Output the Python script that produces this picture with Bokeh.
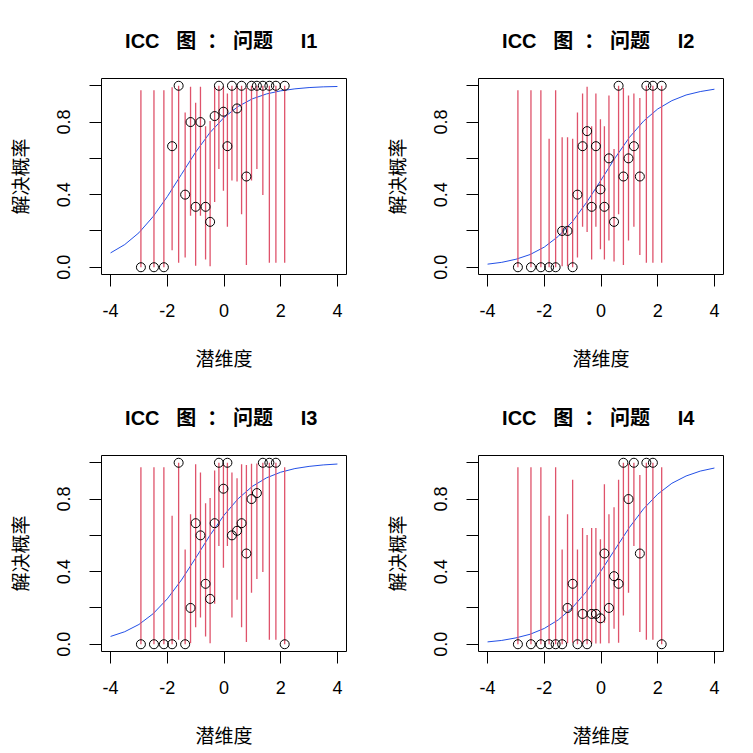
from bokeh.plotting import figure
from bokeh.layouts import column, row
from bokeh.models import Range1d, FixedTicker
from bokeh.embed import file_html
from bokeh.resources import INLINE

# ability group positions (latent trait)
theta = [-2.93, -2.47, -2.12, -1.83, -1.60, -1.37, -1.18, -1.00, -0.83, -0.65,
         -0.49, -0.33, -0.18, -0.02, 0.12, 0.28, 0.46, 0.62, 0.79, 0.97,
         1.16, 1.37, 1.60, 1.83, 2.14]

# item I1
i1_prob = [0, 0, 0, 0.667, 1, 0.4, 0.8, 0.333, 0.8, 0.333, 0.25, 0.833, 1, 0.857,
           0.667, 1, 0.875, 1, 0.5, 1, 1, 1, 1, 1, 1]
i1_lo = [0, 0, 0, 0.094, 0.025, 0.053, 0.284, 0.008, 0.284, 0.043, 0.006, 0.359,
         0.541, 0.421, 0.223, 0.478, 0.473, 0.292, 0.013, 0.478, 0.541, 0.398,
         0.025, 0.025, 0.025]
i1_hi = [0.975, 0.975, 0.975, 0.992, 1, 0.853, 0.995, 0.906, 0.995, 0.777, 0.806,
         0.996, 1, 0.996, 0.957, 1, 0.997, 1, 0.987, 1, 1, 1, 1, 1, 1]

# item I2
i2_prob = [0, 0, 0, 0, 0, 0.2, 0.2, 0, 0.4, 0.667, 0.75, 0.333, 0.667, 0.429,
           0.333, 0.6, 0.25, 1, 0.5, 0.6, 0.667, 0.5, 1, 1, 1]
i2_lo = [0, 0, 0, 0, 0, 0.005, 0.005, 0, 0.053, 0.223, 0.194, 0.043, 0.223, 0.099,
         0.043, 0.147, 0.032, 0.292, 0.013, 0.147, 0.223, 0.068, 0.025, 0.025, 0.025]
i2_hi = [0.975, 0.975, 0.975, 0.708, 0.975, 0.716, 0.716, 0.708, 0.853, 0.957,
         0.994, 0.777, 0.957, 0.816, 0.777, 0.947, 0.651, 1, 0.987, 0.947, 0.957,
         0.932, 1, 1, 1]

# item I3
i3_prob = [0, 0, 0, 0, 1, 0, 0.2, 0.667, 0.6, 0.333, 0.25, 0.667, 1, 0.857, 1,
           0.6, 0.625, 0.667, 0.5, 0.8, 0.833, 1, 1, 1, 0]
i3_lo = [0, 0, 0, 0, 0.025, 0, 0.005, 0.094, 0.147, 0.043, 0.006, 0.223, 0.541,
         0.421, 0.541, 0.147, 0.245, 0.094, 0.013, 0.284, 0.359, 0.398, 0.025,
         0.025, 0]
i3_hi = [0.975, 0.975, 0.975, 0.708, 1, 0.522, 0.716, 0.992, 0.947, 0.777, 0.806,
         0.957, 1, 0.996, 1, 0.947, 0.915, 0.992, 0.987, 0.995, 0.996, 1, 1, 1,
         0.975]

# item I4
i4_prob = [0, 0, 0, 0, 0, 0, 0.2, 0.333, 0, 0.167, 0, 0.167, 0.167, 0.143, 0.5,
           0.2, 0.375, 0.333, 1, 0.8, 1, 0.5, 1, 1, 0]
i4_lo = [0, 0, 0, 0, 0, 0, 0.005, 0.008, 0, 0.004, 0, 0.004, 0.004, 0.004, 0.118,
         0.005, 0.085, 0.008, 0.158, 0.284, 0.541, 0.068, 0.025, 0.025, 0]
i4_hi = [0.975, 0.975, 0.975, 0.708, 0.975, 0.522, 0.716, 0.906, 0.522, 0.641,
         0.602, 0.641, 0.641, 0.579, 0.882, 0.716, 0.755, 0.906, 1, 0.995, 1,
         0.932, 1, 1, 0.975]

# fitted ICC curves read at theta = -4 ... 4 (step 0.5)
curve_x = [-4, -3.5, -3, -2.5, -2, -1.5, -1, -0.5, 0, 0.5, 1, 1.5, 2, 2.5, 3, 3.5, 4]
i1_curve = [0.079, 0.125, 0.190, 0.279, 0.389, 0.512, 0.634, 0.741, 0.825, 0.886,
            0.928, 0.955, 0.972, 0.983, 0.990, 0.994, 0.996]
i2_curve = [0.017, 0.027, 0.044, 0.070, 0.111, 0.171, 0.253, 0.359, 0.480, 0.603,
            0.715, 0.805, 0.872, 0.918, 0.949, 0.968, 0.981]
i3_curve = [0.043, 0.069, 0.109, 0.168, 0.250, 0.354, 0.475, 0.599, 0.711, 0.802,
            0.870, 0.917, 0.948, 0.968, 0.980, 0.988, 0.993]
i4_curve = [0.013, 0.021, 0.035, 0.055, 0.087, 0.135, 0.203, 0.293, 0.404, 0.524,
            0.643, 0.746, 0.827, 0.887, 0.927, 0.954, 0.971]

NB = "\u00a0"
item_names = ["I1", "I2", "I3", "I4"]
titles = ["ICC" + NB * 3 + "图" + NB * 2 + "：" + NB + "问题" + NB * 5 + name + NB
          for name in item_names]
x_label = "潜维度"
y_label = "解决概率"
x_ticks = [-4, -2, 0, 2, 4]
x_tick_labels = ["-4", "-2", "0", "2", "4"]
y_ticks = [0, 0.2, 0.4, 0.6, 0.8, 1.0]
y_tick_labels = ["0.0", "", "0.4", "", "0.8", ""]

RED = "#DF536B"
BLUE = "#2350E6"
LATIN = "Liberation Sans"
CJK = "Noto Sans CJK SC"


def make_panel(title, prob, lo, hi, curve, width, height):
    fw, fh = 245, 197
    bl, bt = 101, 77
    p = figure(width=width, height=height,
               x_range=Range1d(-4.32, 4.32), y_range=Range1d(-0.04, 1.04),
               output_backend="svg", toolbar_location=None,
               min_border_left=bl, min_border_top=bt,
               min_border_right=width - bl - fw,
               min_border_bottom=height - bt - fh,
               title=title)
    p.title.text_font = LATIN + ", " + CJK
    p.title.text_font_size = "20px"
    p.title.text_font_style = "bold"
    p.title.align = "center"
    p.title.standoff = 54
    p.title.text_color = "black"

    p.xgrid.visible = False
    p.ygrid.visible = False
    p.outline_line_color = "black"
    p.outline_line_alpha = 1.0
    p.outline_line_width = 1
    p.background_fill_color = "white"
    p.border_fill_color = "white"

    for ax in (p.xaxis[0], p.yaxis[0]):
        ax.axis_line_color = None
        ax.major_tick_out = 12
        ax.major_tick_in = 0
        ax.minor_tick_out = 0
        ax.minor_tick_in = 0
        ax.major_tick_line_color = "black"
        ax.major_label_text_font = LATIN
        ax.major_label_text_font_size = "18px"
        ax.major_label_text_color = "black"
        ax.axis_label_text_font = CJK
        ax.axis_label_text_font_size = "19px"
        ax.axis_label_text_font_style = "normal"
        ax.axis_label_text_color = "black"

    p.xaxis.ticker = FixedTicker(ticks=x_ticks, minor_ticks=[])
    p.xaxis.major_label_overrides = dict(zip(x_ticks, x_tick_labels))
    p.xaxis.major_label_standoff = 17
    p.xaxis.axis_label = x_label
    p.xaxis.axis_label_standoff = 24

    p.yaxis.ticker = FixedTicker(ticks=y_ticks, minor_ticks=[])
    p.yaxis.major_label_overrides = dict(zip(y_ticks, y_tick_labels))
    p.yaxis.major_label_orientation = "vertical"
    p.yaxis.major_label_standoff = 19
    p.yaxis.axis_label = y_label
    p.yaxis.axis_label_standoff = 22

    p.line(curve_x, curve, line_color=BLUE, line_width=1)
    p.segment(x0=theta, y0=lo, x1=theta, y1=hi, line_color=RED, line_width=1.3)
    p.scatter(theta, prob, marker="circle", size=9, fill_color=None,
              line_color="black", line_width=1)
    return p


p1 = make_panel(titles[0], i1_prob, i1_lo, i1_hi, i1_curve, 377, 377)
p2 = make_panel(titles[1], i2_prob, i2_lo, i2_hi, i2_curve, 376, 377)
p3 = make_panel(titles[2], i3_prob, i3_lo, i3_hi, i3_curve, 377, 376)
p4 = make_panel(titles[3], i4_prob, i4_lo, i4_hi, i4_curve, 376, 376)

layout = column(row(p1, p2), row(p3, p4))
open("out.html", "w").write(file_html(layout, INLINE))
